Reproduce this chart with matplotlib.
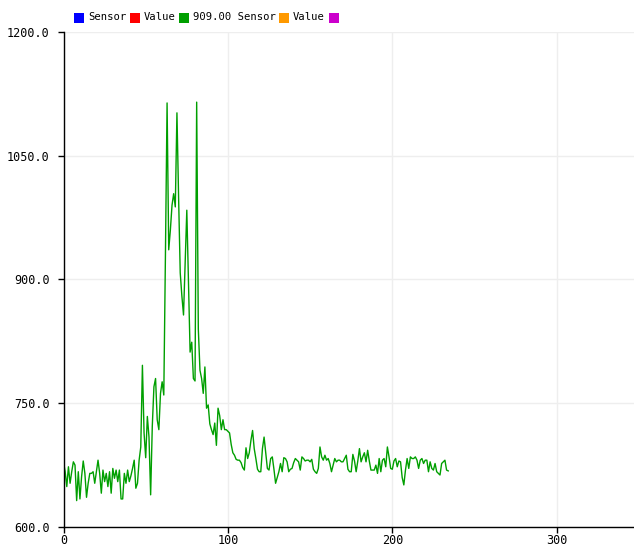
"""
Serial plotter style chart - one sensor trace
"""
import matplotlib
matplotlib.use('Agg')
import matplotlib.pyplot as plt
from matplotlib.patches import Rectangle

# legend entries (colour square + label), as shown across the top
legend_labels = ['Sensor', 'Value', '909.00 Sensor', 'Value', '']
legend_colors = ['#0000ff', '#ff0000', '#009f00', '#ff9900', '#cc00cc']

# y ticks / x ticks
y_ticks = [600.0, 750.0, 900.0, 1050.0, 1200.0]
x_ticks = [0, 100, 200, 300]

# sensor readings, one per sample
sensor_values = [
    679, 667, 649, 673, 653, 667, 679, 675, 632, 667,
    634, 661, 680, 665, 636, 653, 665, 665, 667, 653,
    667, 681, 665, 641, 669, 655, 665, 649, 667, 641,
    671, 659, 669, 655, 669, 634, 634, 665, 653, 669,
    655, 662, 671, 681, 647, 653, 681, 697, 796, 714,
    684, 734, 709, 639, 722, 770, 780, 730, 718, 762,
    776, 760, 930, 1114, 936, 960, 990, 1004, 988, 1102,
    1000, 908, 880, 857, 920, 984, 900, 812, 824, 780,
    777, 1115, 840, 790, 780, 762, 794, 744, 748, 725,
    718, 712, 726, 699, 744, 735, 718, 730, 718, 718,
    716,
    714, 700, 690, 687, 682, 681, 681, 678, 672, 669,
    696, 683, 690, 705, 717, 695, 683, 670, 667, 667,
    695, 709, 690, 671, 669, 683, 685, 670, 653, 660,
    667, 677, 667, 684, 683, 679, 667, 670, 671, 678,
    683, 681, 679, 669, 685, 683, 680, 681, 681, 679,
    682, 670, 667, 665, 671, 697, 685, 681, 687, 681,
    683, 677, 667, 675, 683, 679, 681, 681, 679, 679,
    683, 687, 670, 667, 667, 688, 680, 667, 680, 695,
    679, 685, 690, 679, 693, 680, 669, 669, 669, 675,
    665, 683, 667, 681, 683, 673, 697, 685, 671, 670,
    680, 683, 673, 680, 679, 660, 651, 669, 683, 671,
    685, 683, 683, 685, 681, 671, 681, 683, 677, 681,
    681, 667, 679, 671, 669, 677, 667, 665, 663, 677,
    679, 681, 669, 668,
]
samples = list(range(len(sensor_values)))

mono = 'DejaVu Sans Mono'

fig = plt.figure(figsize=(6.34, 5.44), dpi=100)
ax = fig.add_axes([63.5 / 634, 17 / 544, 1 - 63.5 / 634, 495 / 544])

ax.plot(samples, sensor_values, color='#009f00', linewidth=1.0)

ax.set_xlim(0, 347)
ax.set_ylim(600, 1200)
ax.set_xticks(x_ticks)
ax.set_xticklabels([str(t) for t in x_ticks], family=mono, fontsize=8.5)
ax.set_yticks(y_ticks)
ax.set_yticklabels([f'{t:.1f}' for t in y_ticks], family=mono, fontsize=8.5)
ax.tick_params(axis='y', direction='out', length=4, width=1, color='black', pad=6)
ax.tick_params(axis='x', direction='out', length=4, width=1, color='black', pad=1)

ax.grid(True, color='#eeeeee', linewidth=1)
ax.set_axisbelow(True)
for side in ['top', 'right']:
    ax.spines[side].set_visible(False)
for side in ['left', 'bottom']:
    ax.spines[side].set_color('black')
    ax.spines[side].set_linewidth(1)

# legend row at the top, drawn by hand like the serial plotter does
x_px = 74
for label, col in zip(legend_labels, legend_colors):
    fig.patches.append(Rectangle((x_px / 634, (544 - 23) / 544), 10 / 634, 10 / 544,
                                 transform=fig.transFigure, facecolor=col,
                                 edgecolor='none'))
    if label:
        fig.text((x_px + 14) / 634, (544 - 17) / 544, label, family=mono,
                 fontsize=7.6, va='center', ha='left')
    x_px += 14 + len(label) * 6.3 + 4 if label else 14

fig.savefig('out.png', dpi=100)
plt.close()
